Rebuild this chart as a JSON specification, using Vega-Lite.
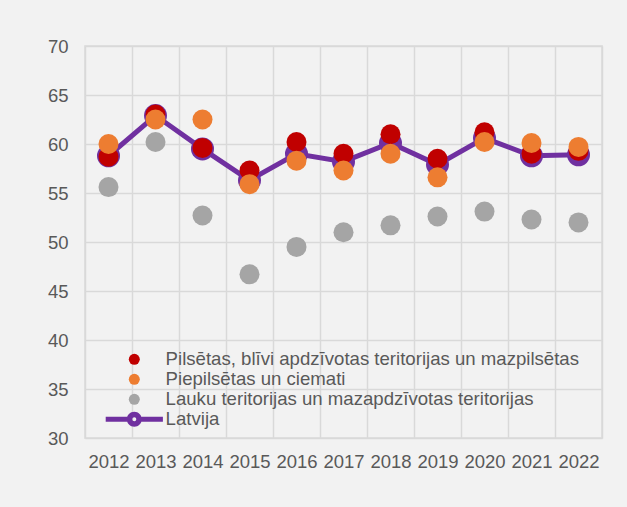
{
  "$schema": "https://vega.github.io/schema/vega-lite/v6.json",
  "width": 517,
  "height": 392,
  "autosize": {"type": "none"},
  "padding": {"left": 85, "top": 46, "right": 25, "bottom": 69},
  "background": "#f2f2f2",
  "config": {
    "font": "Liberation Sans",
    "view": {"stroke": "#d9d9d9", "strokeWidth": 1.5, "fill": "#f2f2f2"},
    "axis": {"labelFont": "Liberation Sans", "labelFontSize": 18.5, "labelColor": "#595959", "gridColor": "#d9d9d9", "gridWidth": 1.5, "gridOpacity": 1, "domain": false, "ticks": false, "title": null}
  },
  "data": {
    "values": [
      {"year": "2012", "series": "Latvija", "value": 58.8},
      {"year": "2013", "series": "Latvija", "value": 62.9},
      {"year": "2014", "series": "Latvija", "value": 59.5},
      {"year": "2015", "series": "Latvija", "value": 56.3},
      {"year": "2016", "series": "Latvija", "value": 59.0},
      {"year": "2017", "series": "Latvija", "value": 58.2},
      {"year": "2018", "series": "Latvija", "value": 60.1},
      {"year": "2019", "series": "Latvija", "value": 57.9},
      {"year": "2020", "series": "Latvija", "value": 60.6},
      {"year": "2021", "series": "Latvija", "value": 58.8},
      {"year": "2022", "series": "Latvija", "value": 58.9},
      {"year": "2012", "series": "Pilsētas, blīvi apdzīvotas teritorijas un mazpilsētas", "value": 58.7},
      {"year": "2013", "series": "Pilsētas, blīvi apdzīvotas teritorijas un mazpilsētas", "value": 63.0},
      {"year": "2014", "series": "Pilsētas, blīvi apdzīvotas teritorijas un mazpilsētas", "value": 59.6},
      {"year": "2015", "series": "Pilsētas, blīvi apdzīvotas teritorijas un mazpilsētas", "value": 57.3},
      {"year": "2016", "series": "Pilsētas, blīvi apdzīvotas teritorijas un mazpilsētas", "value": 60.2},
      {"year": "2017", "series": "Pilsētas, blīvi apdzīvotas teritorijas un mazpilsētas", "value": 59.0},
      {"year": "2018", "series": "Pilsētas, blīvi apdzīvotas teritorijas un mazpilsētas", "value": 61.0},
      {"year": "2019", "series": "Pilsētas, blīvi apdzīvotas teritorijas un mazpilsētas", "value": 58.5},
      {"year": "2020", "series": "Pilsētas, blīvi apdzīvotas teritorijas un mazpilsētas", "value": 61.2},
      {"year": "2021", "series": "Pilsētas, blīvi apdzīvotas teritorijas un mazpilsētas", "value": 59.0},
      {"year": "2022", "series": "Pilsētas, blīvi apdzīvotas teritorijas un mazpilsētas", "value": 59.3},
      {"year": "2012", "series": "Piepilsētas un ciemati", "value": 60.0},
      {"year": "2013", "series": "Piepilsētas un ciemati", "value": 62.5},
      {"year": "2014", "series": "Piepilsētas un ciemati", "value": 62.5},
      {"year": "2015", "series": "Piepilsētas un ciemati", "value": 55.9},
      {"year": "2016", "series": "Piepilsētas un ciemati", "value": 58.3},
      {"year": "2017", "series": "Piepilsētas un ciemati", "value": 57.3},
      {"year": "2018", "series": "Piepilsētas un ciemati", "value": 59.0},
      {"year": "2019", "series": "Piepilsētas un ciemati", "value": 56.6},
      {"year": "2020", "series": "Piepilsētas un ciemati", "value": 60.2},
      {"year": "2021", "series": "Piepilsētas un ciemati", "value": 60.1},
      {"year": "2022", "series": "Piepilsētas un ciemati", "value": 59.7},
      {"year": "2012", "series": "Lauku teritorijas un mazapdzīvotas teritorijas", "value": 55.6},
      {"year": "2013", "series": "Lauku teritorijas un mazapdzīvotas teritorijas", "value": 60.2},
      {"year": "2014", "series": "Lauku teritorijas un mazapdzīvotas teritorijas", "value": 52.7},
      {"year": "2015", "series": "Lauku teritorijas un mazapdzīvotas teritorijas", "value": 46.7},
      {"year": "2016", "series": "Lauku teritorijas un mazapdzīvotas teritorijas", "value": 49.5},
      {"year": "2017", "series": "Lauku teritorijas un mazapdzīvotas teritorijas", "value": 51.0},
      {"year": "2018", "series": "Lauku teritorijas un mazapdzīvotas teritorijas", "value": 51.7},
      {"year": "2019", "series": "Lauku teritorijas un mazapdzīvotas teritorijas", "value": 52.6},
      {"year": "2020", "series": "Lauku teritorijas un mazapdzīvotas teritorijas", "value": 53.1},
      {"year": "2021", "series": "Lauku teritorijas un mazapdzīvotas teritorijas", "value": 52.3},
      {"year": "2022", "series": "Lauku teritorijas un mazapdzīvotas teritorijas", "value": 52.0}
    ]
  },
  "encoding": {
    "x": {"field": "year", "type": "ordinal", "scale": {"type": "band", "paddingInner": 0, "paddingOuter": 0},
      "axis": {"labelAngle": 0, "tickBand": "extent", "grid": true, "labelPadding": 14}},
    "y": {"field": "value", "type": "quantitative", "scale": {"domain": [30, 70], "nice": false, "zero": false},
      "axis": {"values": [30, 35, 40, 45, 50, 55, 60, 65, 70], "labelPadding": 17, "grid": true}}
  },
  "layer": [
    {
      "transform": [{"filter": "datum.series === 'Latvija'"}],
      "mark": {"type": "line", "color": "#7030a0", "strokeWidth": 5}
    },
    {
      "transform": [{"filter": "datum.series === 'Latvija'"}],
      "mark": {"type": "point", "shape": "circle", "filled": true, "opacity": 1, "size": 529, "color": "#7030a0"}
    },
    {
      "transform": [{"filter": "datum.series !== 'Latvija'"}],
      "mark": {"type": "point", "filled": true, "opacity": 1, "size": 400},
      "encoding": {
        "shape": {
          "field": "series", "type": "nominal",
          "scale": {
            "domain": ["Pilsētas, blīvi apdzīvotas teritorijas un mazpilsētas", "Piepilsētas un ciemati", "Lauku teritorijas un mazapdzīvotas teritorijas", "Latvija"],
            "range": ["circle", "circle", "circle", "M -5.2 -0.45 H -1.3 V 0.45 H -5.2 Z M 1.3 -0.45 H 5.2 V 0.45 H 1.3 Z M 1.36 0 A 1.36 1.36 0 1 1 -1.36 0 A 1.36 1.36 0 1 1 1.36 0 Z M 0.36 0 A 0.36 0.36 0 1 0 -0.36 0 A 0.36 0.36 0 1 0 0.36 0 Z"]
          },
          "legend": null
        },
        "color": {
          "field": "series", "type": "nominal",
          "scale": {
            "domain": ["Pilsētas, blīvi apdzīvotas teritorijas un mazpilsētas", "Piepilsētas un ciemati", "Lauku teritorijas un mazapdzīvotas teritorijas", "Latvija"],
            "range": ["#c00000", "#ed7d31", "#a5a5a5", "#7030a0"]
          },
          "legend": {
            "title": null,
            "orient": "none",
            "legendX": 40,
            "legendY": 304,
            "padding": 0,
            "symbolOffset": 0,
            "symbolSize": 121,
            "symbolStrokeWidth": 0,
            "labelOffset": 22,
            "labelFont": "Liberation Sans",
            "labelFontSize": 18.6,
            "labelColor": "#595959",
            "labelLimit": 600,
            "rowPadding": 1
          }
        }
      }
    }
  ]
}
